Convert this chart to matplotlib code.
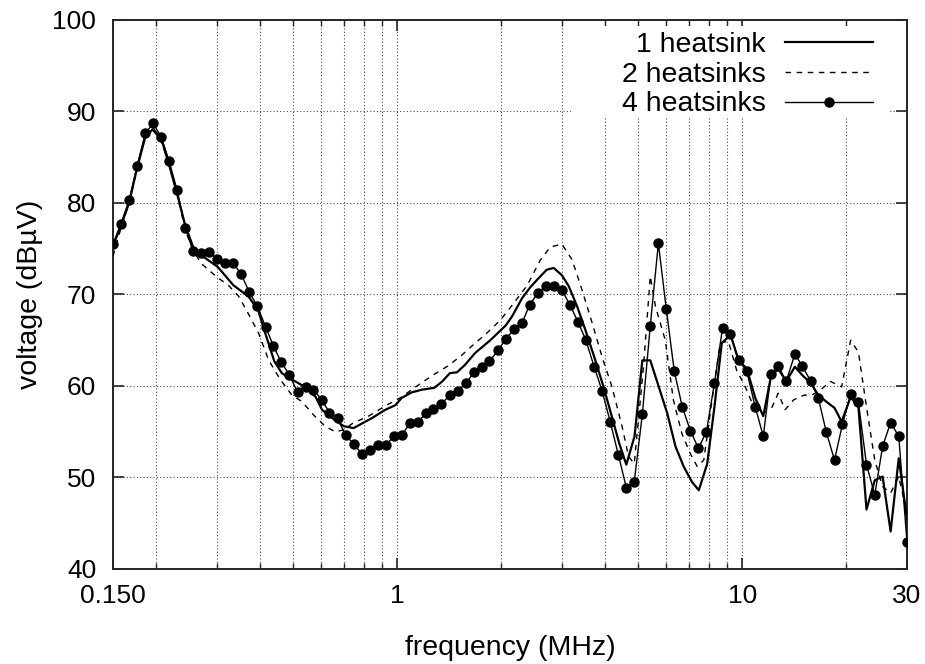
import matplotlib

matplotlib.use("Agg")
import matplotlib.pyplot as plt
from matplotlib.patches import Rectangle
from matplotlib.ticker import FixedLocator, NullFormatter

plt.rcParams["font.family"] = ["Liberation Sans", "DejaVu Sans"]

# 4 heatsinks: measured points (marker on every sample)
freq4 = [
    0.150, 0.158, 0.167, 0.176, 0.186, 0.196, 0.207, 0.218, 0.230, 0.243,
    0.256, 0.270, 0.285, 0.301, 0.317, 0.335, 0.353, 0.372, 0.393, 0.415,
    0.437, 0.461, 0.487, 0.514, 0.542, 0.571, 0.603, 0.636, 0.671, 0.708,
    0.747, 0.788, 0.831, 0.877, 0.925, 0.976, 1.03, 1.09, 1.15, 1.21,
    1.27, 1.34, 1.42, 1.50, 1.58, 1.67, 1.76, 1.85, 1.96, 2.06,
    2.18, 2.30, 2.42, 2.56, 2.70, 2.84, 3.00, 3.17, 3.34, 3.52,
    3.72, 3.92, 4.14, 4.37, 4.61, 4.86, 5.13, 5.41, 5.71, 6.02,
    6.35, 6.70, 7.07, 7.46, 7.87, 8.30, 8.76, 9.24, 9.75, 10.3,
    10.9, 11.5, 12.1, 12.7, 13.4, 14.2, 14.9, 15.8, 16.6, 17.5,
    18.5, 19.5, 20.6, 21.7, 22.9, 24.2, 25.5, 26.9, 28.4, 30.0,
]
volt4 = [
    75.5, 77.7, 80.3, 84.0, 87.6, 88.7, 87.2, 84.6, 81.4, 77.3,
    74.7, 74.5, 74.6, 73.9, 73.4, 73.4, 72.2, 70.3, 68.7, 66.5,
    64.4, 62.6, 61.2, 59.3, 59.9, 59.6, 58.5, 57.1, 56.5, 54.6,
    53.7, 52.6, 53.0, 53.6, 53.5, 54.5, 54.6, 56.0, 56.1, 57.0,
    57.5, 58.0, 59.0, 59.5, 60.3, 61.5, 62.1, 62.7, 63.9, 65.1,
    66.2, 66.9, 68.9, 70.2, 70.9, 70.9, 70.5, 68.8, 67.0, 65.0,
    62.1, 59.5, 56.1, 52.5, 48.9, 49.5, 56.9, 66.6, 75.6, 68.4,
    61.6, 57.7, 55.1, 53.2, 55.0, 60.3, 66.3, 65.7, 62.8, 61.6,
    57.7, 54.5, 61.3, 62.2, 60.5, 63.5, 62.2, 60.5, 58.7, 55.0,
    51.9, 55.8, 59.1, 58.2, 51.4, 48.1, 53.4, 56.0, 54.5, 43.0,
]

# 1 heatsink: solid line
freq1 = [
    0.150, 0.158, 0.167, 0.176, 0.186, 0.196, 0.207, 0.218, 0.230, 0.243,
    0.256, 0.270, 0.302, 0.335, 0.37, 0.395, 0.414, 0.44, 0.463, 0.49,
    0.54, 0.58, 0.605, 0.647, 0.70, 0.747, 0.79, 0.845, 0.923, 0.987,
    1.03, 1.10, 1.18, 1.28, 1.35, 1.42, 1.49, 1.57, 1.68, 1.86,
    1.97, 2.06, 2.15, 2.30, 2.43, 2.57, 2.71, 2.84, 3.00, 3.14,
    3.32, 3.51, 3.75, 3.96, 4.19, 4.40, 4.61, 4.87, 5.13, 5.41,
    6.06, 6.40, 6.76, 7.15, 7.48, 7.91, 8.30, 8.72, 9.24, 9.75,
    10.3, 10.9, 11.5, 12.1, 12.7, 13.4, 14.2, 14.9, 15.8, 16.6,
    17.5, 18.5, 19.4, 20.6, 21.7, 22.9, 24.2, 25.5, 26.9, 28.4,
    30.0,
]
volt1 = [
    75.3, 77.5, 80.0, 83.8, 87.2, 88.1, 87.0, 84.2, 81.0, 77.5,
    75.2, 74.3, 73.0, 71.0, 69.8, 68.3, 65.8, 62.7, 61.4, 60.8,
    59.9, 58.8, 57.4, 56.5, 55.6, 55.4, 55.9, 56.5, 57.4, 57.9,
    58.7, 59.3, 59.6, 59.8, 60.5, 61.4, 61.5, 62.3, 63.6, 65.0,
    65.9, 66.6, 67.6, 69.6, 70.8, 71.8, 72.7, 72.9, 72.1, 70.9,
    68.7, 66.1, 62.8, 59.9, 56.6, 53.7, 51.4, 54.5, 62.8, 62.8,
    57.0, 53.4, 51.2, 49.5, 48.6, 51.5, 57.7, 64.7, 65.6, 62.8,
    61.9, 58.7, 56.7, 61.0, 61.9, 60.5, 62.1, 61.2, 60.3, 59.0,
    58.3, 57.6, 56.1, 58.8, 57.7, 46.5, 49.7, 50.1, 44.1, 52.1,
    45.5,
]

# 2 heatsinks: dashed line
freq2 = [
    0.150, 0.158, 0.167, 0.176, 0.186, 0.196, 0.207, 0.218, 0.230, 0.243,
    0.256, 0.270, 0.30, 0.324, 0.347, 0.37, 0.396, 0.424, 0.458, 0.495,
    0.529, 0.573, 0.618, 0.66, 0.70, 0.747, 0.817, 0.93, 1.02, 1.17,
    1.27, 1.39, 1.52, 1.66, 1.82, 1.99, 2.17, 2.38, 2.60, 2.78,
    3.00, 3.21, 3.43, 3.67, 3.92, 4.19, 4.48, 4.68, 4.86, 5.17,
    5.41, 5.60, 5.98, 6.31, 6.68, 7.07, 7.40, 7.73, 8.17, 8.63,
    9.11, 9.63, 10.2, 10.8, 11.5, 12.2, 12.7, 13.3, 14.1, 15.1,
    15.9, 16.9, 18.0, 19.4, 20.6, 21.7, 22.9, 24.2, 25.5, 26.9,
    28.4, 30.0,
]
volt2 = [
    74.2, 77.2, 80.0, 83.7, 87.3, 87.9, 86.8, 84.2, 81.0, 77.0,
    74.8, 73.4, 71.9, 71.0, 69.8, 67.9, 65.8, 62.8, 60.7, 59.0,
    58.3, 56.8, 55.6, 55.0, 55.2, 56.0, 56.6, 57.9, 58.7, 60.3,
    61.2, 62.1, 63.2, 64.5, 65.8, 67.2, 69.0, 71.0, 73.8, 75.2,
    75.5, 73.8, 70.5, 66.9, 63.2, 59.9, 55.6, 52.3, 51.5, 62.1,
    72.0, 68.7, 65.0, 58.5, 54.8, 52.6, 51.2, 51.9, 58.5, 64.7,
    64.9, 61.7, 59.9, 57.7, 57.0, 57.7, 59.2, 57.4, 58.5, 59.0,
    59.0, 59.6, 60.5, 59.9, 65.0, 63.7, 57.7, 51.9, 49.0, 48.3,
    50.1, 46.1,
]

x_major = [0.15, 1, 10, 30]
x_major_labels = ["0.150", "1", "10", "30"]
x_minor = [0.2, 0.3, 0.4, 0.5, 0.6, 0.7, 0.8, 0.9,
           2, 3, 4, 5, 6, 7, 8, 9, 20]
y_ticks = [40, 50, 60, 70, 80, 90, 100]

fig = plt.figure(figsize=(9.25, 6.64), dpi=100)
ax = fig.add_axes([0.1222, 0.1431, 0.8583, 0.8268])

ax.set_xscale("log")
ax.set_xlim(0.15, 30)
ax.set_ylim(40, 100)

ax.xaxis.set_major_locator(FixedLocator(x_major))
ax.xaxis.set_minor_locator(FixedLocator(x_minor))
ax.xaxis.set_minor_formatter(NullFormatter())
ax.set_xticklabels(x_major_labels)
ax.set_yticks(y_ticks)

grid_kw = dict(color="0.3", linestyle=(0, (1, 2)), linewidth=0.8)
ax.grid(True, which="both", axis="x", **grid_kw)
ax.grid(True, which="major", axis="y", **grid_kw)

ax.tick_params(which="major", direction="in", length=8, width=1.2,
               top=True, right=True, labelsize=19, pad=11, color="0.15")
ax.tick_params(which="minor", direction="in", length=4, width=1.0,
               top=True, right=True, color="0.15")
ax.tick_params(axis="y", pad=12)
for spine in ax.spines.values():
    spine.set_linewidth(1.4)
    spine.set_color("0.15")

# white key area, like gnuplot's key box (hides the grid behind the legend)
ax.add_patch(Rectangle((0.577, 0.823), 0.399, 0.166, transform=ax.transAxes,
                       facecolor="white", edgecolor="none", zorder=1.8))

ax.plot(freq1, volt1, color="black", linewidth=1.6, label="1 heatsink", zorder=3)
ax.plot(freq2, volt2, color="black", linewidth=1.0, dashes=(4, 4),
        label="2 heatsinks", zorder=3)
ax.plot(freq4, volt4, color="black", linewidth=1.0, marker="o",
        markersize=6.5, label="4 heatsinks", zorder=4)

ax.set_xlabel("frequency (MHz)", fontsize=20.5, labelpad=19)
ax.set_ylabel("voltage (dB\u00b5V)", fontsize=20.5, labelpad=7)

leg = ax.legend(loc="upper right", frameon=False, markerfirst=False,
                fontsize=20.5, handlelength=3.1, handletextpad=0.67,
                labelspacing=0.13, borderaxespad=0.0, borderpad=0.0,
                bbox_to_anchor=(0.957, 0.978))
for line in leg.get_lines():
    if line.get_marker() == "o":
        line.set_markevery([1])

fig.savefig("out.png", dpi=100)
